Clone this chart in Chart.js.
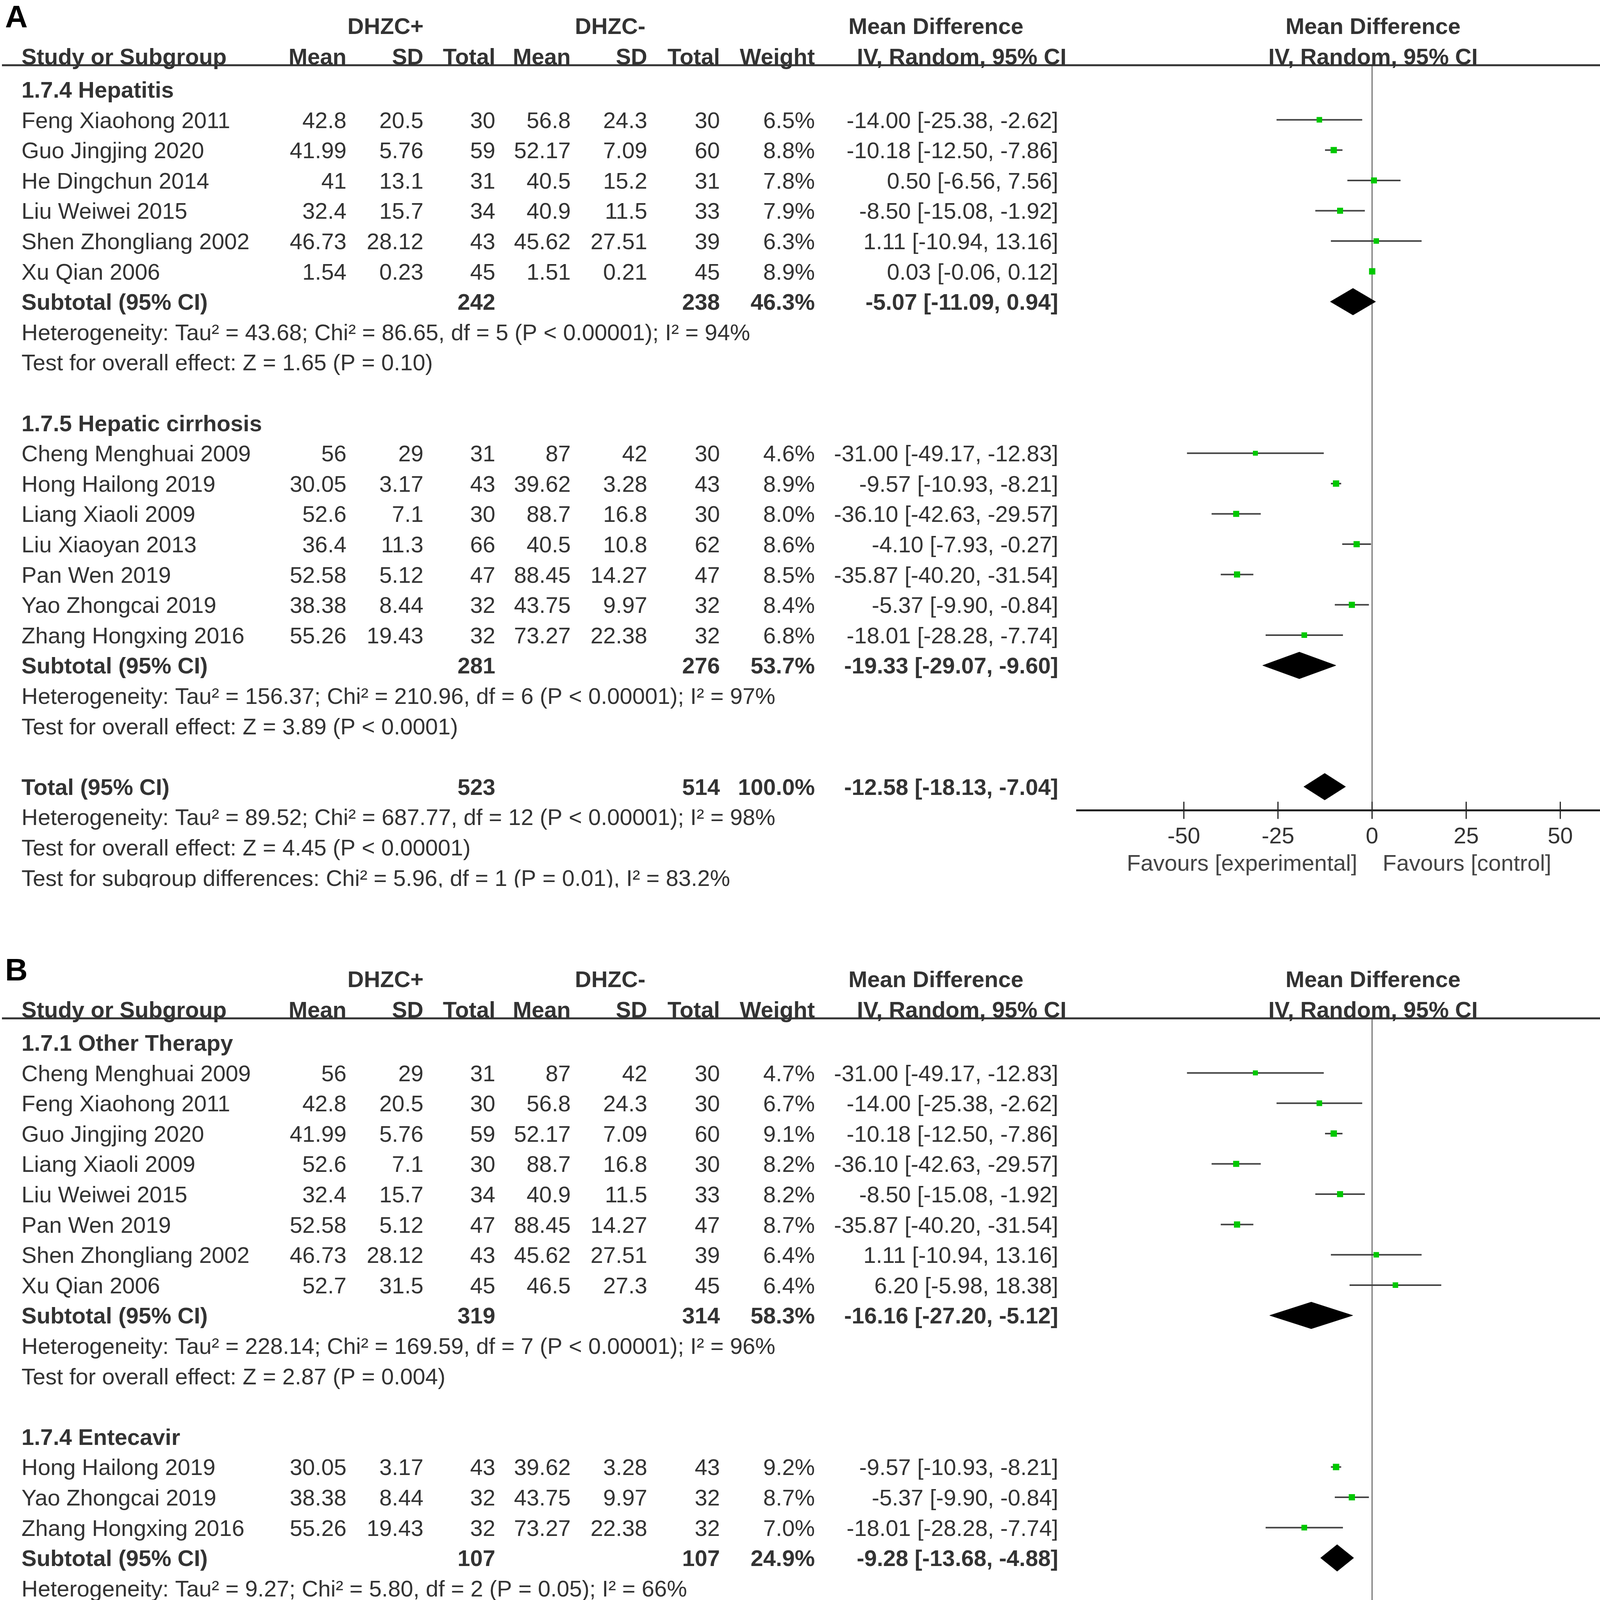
<!DOCTYPE html>
<html>
<head>
<meta charset="utf-8">
<script src="https://cdn.jsdelivr.net/npm/chart.js@4.4.1/dist/chart.umd.min.js"></script>
<style>
html, body { margin: 0; padding: 0; background: #fff; }
body { width: 4328px; height: 5111px; position: relative; overflow: hidden; }
canvas { position: absolute; left: 0; }
#chartA { top: 0; }
#chartB { top: 2400px; }
</style>
</head>
<body>
<canvas id="chartA" width="4328" height="2272"></canvas>
<canvas id="chartB" width="4328" height="2711"></canvas>
<script>
// study rows: name, DHZC+ mean, sd, total, DHZC- mean, sd, total, weight %, MD, lower, upper
var hepatitisA = [
  ['Feng Xiaohong 2011', 42.8, 20.5, 30, 56.8, 24.3, 30, 6.5, -14.00, -25.38, -2.62],
  ['Guo Jingjing 2020', 41.99, 5.76, 59, 52.17, 7.09, 60, 8.8, -10.18, -12.50, -7.86],
  ['He Dingchun 2014', 41, 13.1, 31, 40.5, 15.2, 31, 7.8, 0.50, -6.56, 7.56],
  ['Liu Weiwei 2015', 32.4, 15.7, 34, 40.9, 11.5, 33, 7.9, -8.50, -15.08, -1.92],
  ['Shen Zhongliang 2002', 46.73, 28.12, 43, 45.62, 27.51, 39, 6.3, 1.11, -10.94, 13.16],
  ['Xu Qian 2006', 1.54, 0.23, 45, 1.51, 0.21, 45, 8.9, 0.03, -0.06, 0.12]
];
var cirrhosisA = [
  ['Cheng Menghuai 2009', 56, 29, 31, 87, 42, 30, 4.6, -31.00, -49.17, -12.83],
  ['Hong Hailong 2019', 30.05, 3.17, 43, 39.62, 3.28, 43, 8.9, -9.57, -10.93, -8.21],
  ['Liang Xiaoli 2009', 52.6, 7.1, 30, 88.7, 16.8, 30, 8.0, -36.10, -42.63, -29.57],
  ['Liu Xiaoyan 2013', 36.4, 11.3, 66, 40.5, 10.8, 62, 8.6, -4.10, -7.93, -0.27],
  ['Pan Wen 2019', 52.58, 5.12, 47, 88.45, 14.27, 47, 8.5, -35.87, -40.20, -31.54],
  ['Yao Zhongcai 2019', 38.38, 8.44, 32, 43.75, 9.97, 32, 8.4, -5.37, -9.90, -0.84],
  ['Zhang Hongxing 2016', 55.26, 19.43, 32, 73.27, 22.38, 32, 6.8, -18.01, -28.28, -7.74]
];
var groupsA = ['1.7.4 Hepatitis', '1.7.5 Hepatic cirrhosis'];
// subtotal: DHZC+ total, DHZC- total, weight, MD, lower, upper
var subtotalsA = [
  [242, 238, 46.3, -5.07, -11.09, 0.94],
  [281, 276, 53.7, -19.33, -29.07, -9.60]
];
var hetA = [
  'Heterogeneity: Tau\u00b2 = 43.68; Chi\u00b2 = 86.65, df = 5 (P < 0.00001); I\u00b2 = 94%',
  'Heterogeneity: Tau\u00b2 = 156.37; Chi\u00b2 = 210.96, df = 6 (P < 0.00001); I\u00b2 = 97%'
];
var effectA = [
  'Test for overall effect: Z = 1.65 (P = 0.10)',
  'Test for overall effect: Z = 3.89 (P < 0.0001)'
];
var totalA = [523, 514, 100.0, -12.58, -18.13, -7.04];
var totalNotesA = [
  'Heterogeneity: Tau\u00b2 = 89.52; Chi\u00b2 = 687.77, df = 12 (P < 0.00001); I\u00b2 = 98%',
  'Test for overall effect: Z = 4.45 (P < 0.00001)',
  'Test for subgroup differences: Chi\u00b2 = 5.96, df = 1 (P = 0.01), I\u00b2 = 83.2%'
];

var otherB = [
  ['Cheng Menghuai 2009', 56, 29, 31, 87, 42, 30, 4.7, -31.00, -49.17, -12.83],
  ['Feng Xiaohong 2011', 42.8, 20.5, 30, 56.8, 24.3, 30, 6.7, -14.00, -25.38, -2.62],
  ['Guo Jingjing 2020', 41.99, 5.76, 59, 52.17, 7.09, 60, 9.1, -10.18, -12.50, -7.86],
  ['Liang Xiaoli 2009', 52.6, 7.1, 30, 88.7, 16.8, 30, 8.2, -36.10, -42.63, -29.57],
  ['Liu Weiwei 2015', 32.4, 15.7, 34, 40.9, 11.5, 33, 8.2, -8.50, -15.08, -1.92],
  ['Pan Wen 2019', 52.58, 5.12, 47, 88.45, 14.27, 47, 8.7, -35.87, -40.20, -31.54],
  ['Shen Zhongliang 2002', 46.73, 28.12, 43, 45.62, 27.51, 39, 6.4, 1.11, -10.94, 13.16],
  ['Xu Qian 2006', 52.7, 31.5, 45, 46.5, 27.3, 45, 6.4, 6.20, -5.98, 18.38]
];
var entecavirB = [
  ['Hong Hailong 2019', 30.05, 3.17, 43, 39.62, 3.28, 43, 9.2, -9.57, -10.93, -8.21],
  ['Yao Zhongcai 2019', 38.38, 8.44, 32, 43.75, 9.97, 32, 8.7, -5.37, -9.90, -0.84],
  ['Zhang Hongxing 2016', 55.26, 19.43, 32, 73.27, 22.38, 32, 7.0, -18.01, -28.28, -7.74]
];
var adefovirB = [
  ['He Dingchun 2014', 41, 13.1, 31, 40.5, 15.2, 31, 8.0, 0.50, -6.56, 7.56],
  ['Liu Xiaoyan 2013', 36.4, 11.3, 66, 40.5, 10.8, 62, 8.8, -4.10, -7.93, -0.27]
];
var groupsB = ['1.7.1 Other Therapy', '1.7.4 Entecavir', '1.7.5 Adefovir'];
var subtotalsB = [
  [319, 314, 58.3, -16.16, -27.20, -5.12],
  [107, 107, 24.9, -9.28, -13.68, -4.88],
  [97, 93, 16.8, -2.80, -6.86, 1.27]
];
var hetB = [
  'Heterogeneity: Tau\u00b2 = 228.14; Chi\u00b2 = 169.59, df = 7 (P < 0.00001); I\u00b2 = 96%',
  'Heterogeneity: Tau\u00b2 = 9.27; Chi\u00b2 = 5.80, df = 2 (P = 0.05); I\u00b2 = 66%',
  'Heterogeneity: Tau\u00b2 = 2.18; Chi\u00b2 = 1.26, df = 1 (P = 0.26); I\u00b2 = 21%'
];
var effectB = [
  'Test for overall effect: Z = 2.87 (P = 0.004)',
  'Test for overall effect: Z = 4.13 (P < 0.0001)',
  'Test for overall effect: Z = 1.35 (P = 0.18)'
];
var totalB = [523, 514, 100.0, -12.53, -18.13, -6.94];
var totalNotesB = [
  'Heterogeneity: Tau\u00b2 = 88.47; Chi\u00b2 = 235.38, df = 12 (P < 0.00001); I\u00b2 = 95%',
  'Test for overall effect: Z = 4.39 (P < 0.0001)',
  'Test for subgroup differences: Chi\u00b2 = 7.67, df = 2 (P = 0.02), I\u00b2 = 73.9%'
];

var xTicks = [-50, -25, 0, 25, 50];

var ROW = 77.6;          // px per table row
var FONT = '"Liberation Sans", Arial, sans-serif';
var TEXT = '#333';
var colRight = [887, 1084, 1268, 1461, 1657, 1843, 2086, 2709];

function buildRows(groups, studies, subs, hets, effects, total, notes) {
  var rows = [];
  groups.forEach(function (g, gi) {
    rows.push({ kind: 'group', text: g });
    studies[gi].forEach(function (s) { rows.push({ kind: 'study', s: s }); });
    rows.push({ kind: 'subtotal', s: subs[gi] });
    rows.push({ kind: 'note', text: hets[gi] });
    rows.push({ kind: 'note', text: effects[gi] });
    rows.push({ kind: 'blank' });
  });
  rows.push({ kind: 'total', s: total });
  notes.forEach(function (t) { rows.push({ kind: 'note', text: t }); });
  return rows;
}

function ci(md, lo, hi) {
  return md.toFixed(2) + ' [' + lo.toFixed(2) + ', ' + hi.toFixed(2) + ']';
}

var tablePlugin = {
  id: 'table',
  afterDraw: function (chart) {
    var o = chart.options.plugins.table;
    var ctx = chart.ctx, ys = chart.scales.y, xs = chart.scales.x;
    var area = chart.chartArea;
    function base(i) { return ys.getPixelForValue(i) + 21; }
    function txt(s, x, i, align, bold) {
      ctx.font = (bold ? 'bold ' : '') + '58px ' + FONT;
      ctx.textAlign = align;
      ctx.fillText(s, x, base(i));
    }
    ctx.save();
    ctx.textBaseline = 'alphabetic';

    // panel letter
    ctx.fillStyle = '#000';
    ctx.font = 'bold 80px ' + FONT;
    ctx.textAlign = 'left';
    ctx.fillText(o.letter, 13, ys.getPixelForValue(-2.42) + 29);

    // header
    ctx.fillStyle = TEXT;
    txt('DHZC+', 987, -2.1, 'center', true);
    txt('DHZC-', 1562, -2.1, 'center', true);
    txt('Mean Difference', 2396, -2.1, 'center', true);
    txt('Mean Difference', 3515, -2.1, 'center', true);
    txt('Study or Subgroup', 55, -1.1, 'left', true);
    ['Mean', 'SD', 'Total', 'Mean', 'SD', 'Total', 'Weight'].forEach(function (h, k) {
      txt(h, colRight[k], -1.1, 'right', true);
    });
    txt('IV, Random, 95% CI', 2730, -1.1, 'right', true);
    txt('IV, Random, 95% CI', 3515, -1.1, 'center', true);

    ctx.strokeStyle = '#333';
    ctx.lineWidth = 5;
    ctx.beginPath();
    ctx.moveTo(5, area.top);
    ctx.lineTo(4323, area.top);
    ctx.stroke();

    // body rows
    o.rows.forEach(function (r, i) {
      if (r.kind === 'group') {
        txt(r.text, 55, i, 'left', true);
      } else if (r.kind === 'note') {
        txt(r.text, 55, i, 'left', false);
      } else if (r.kind === 'study') {
        var s = r.s;
        txt(s[0], 55, i, 'left', false);
        for (var k = 1; k <= 6; k++) txt(String(s[k]), colRight[k - 1], i, 'right', false);
        txt(s[7].toFixed(1) + '%', colRight[6], i, 'right', false);
        txt(ci(s[8], s[9], s[10]), colRight[7], i, 'right', false);
      } else if (r.kind === 'subtotal' || r.kind === 'total') {
        var t = r.s;
        txt(r.kind === 'total' ? 'Total (95% CI)' : 'Subtotal (95% CI)', 55, i, 'left', true);
        txt(String(t[0]), colRight[2], i, 'right', true);
        txt(String(t[1]), colRight[5], i, 'right', true);
        txt(t[2].toFixed(1) + '%', colRight[6], i, 'right', true);
        txt(ci(t[3], t[4], t[5]), colRight[7], i, 'right', true);
      }
    });

    // tick marks crossing the axis line
    ctx.strokeStyle = '#222';
    ctx.lineWidth = 3;
    xs.ticks.forEach(function (t) {
      var px = xs.getPixelForValue(t.value);
      ctx.beginPath();
      ctx.moveTo(px, area.bottom - 22);
      ctx.lineTo(px, area.bottom + 22);
      ctx.stroke();
    });

    // favours labels
    var x0 = xs.getPixelForValue(0);
    ctx.fillStyle = '#444';
    ctx.font = '58px ' + FONT;
    ctx.textAlign = 'right';
    ctx.fillText('Favours [experimental]', x0 - 38, area.bottom + 155);
    ctx.textAlign = 'left';
    ctx.fillText('Favours [control]', x0 + 27, area.bottom + 155);
    ctx.restore();
  }
};

function makePanel(id, letter, rows, headerY) {
  var canvas = document.getElementById(id);
  var H = canvas.height;
  var totalIdx = 0;
  rows.forEach(function (r, i) { if (r.kind === 'total') totalIdx = i; });
  var yMin = -0.8, yMax = totalIdx + 0.78;
  var axisH = H - headerY - (yMax - yMin) * ROW;

  var squares = [], sizes = [], lines = [], diamonds = [];
  rows.forEach(function (r, i) {
    if (r.kind === 'study') {
      var s = r.s;
      squares.push({ x: s[8], y: i });
      sizes.push((9 + 0.8 * s[7]) / Math.SQRT2);
      lines.push({ x: s[9], y: i }, { x: s[10], y: i }, { x: null, y: null });
    } else if (r.kind === 'subtotal' || r.kind === 'total') {
      var t = r.s, h = 0.44;
      diamonds.push({
        type: 'scatter',
        showLine: true,
        data: [{ x: t[4], y: i }, { x: t[3], y: i - h }, { x: t[5], y: i }, { x: t[3], y: i + h }, { x: t[4], y: i }],
        borderColor: '#000',
        borderWidth: 1,
        backgroundColor: '#000',
        fill: 'shape',
        pointRadius: 0,
        order: 2
      });
    }
  });

  var datasets = [
    {
      type: 'scatter',
      data: squares,
      pointStyle: 'rect',
      pointRadius: sizes,
      backgroundColor: '#00c800',
      borderWidth: 0,
      order: 0
    },
    {
      type: 'scatter',
      data: lines,
      showLine: true,
      spanGaps: false,
      borderColor: '#444',
      borderWidth: 4,
      pointRadius: 0,
      order: 1
    }
  ].concat(diamonds);

  return new Chart(canvas.getContext('2d'), {
    type: 'scatter',
    data: { datasets: datasets },
    plugins: [tablePlugin],
    options: {
      responsive: false,
      maintainAspectRatio: false,
      devicePixelRatio: 1,
      animation: false,
      events: [],
      layout: { padding: { left: 2757, right: 60, top: headerY, bottom: 0 }, autoPadding: false },
      plugins: {
        legend: { display: false },
        tooltip: { enabled: false },
        table: { letter: letter, rows: rows }
      },
      scales: {
        x: {
          type: 'linear',
          min: -78.4,
          max: 78.4,
          afterBuildTicks: function (s) { s.ticks = xTicks.map(function (v) { return { value: v }; }); },
          afterFit: function (s) { s.height = axisH; },
          grid: {
            drawTicks: false,
            lineWidth: 3,
            color: function (c) { return c.tick && c.tick.value === 0 ? '#777' : 'rgba(0,0,0,0)'; }
          },
          border: { display: true, color: '#222', width: 5 },
          ticks: {
            autoSkip: false,
            maxRotation: 0,
            padding: 34,
            color: '#333',
            font: { family: FONT, size: 58 }
          }
        },
        y: {
          type: 'linear',
          display: false,
          reverse: true,
          min: yMin,
          max: yMax
        }
      }
    }
  });
}

var rowsA = buildRows(groupsA, [hepatitisA, cirrhosisA], subtotalsA, hetA, effectA, totalA, totalNotesA);
var rowsB = buildRows(groupsB, [otherB, entecavirB, adefovirB], subtotalsB, hetB, effectB, totalB, totalNotesB);

makePanel('chartA', 'A', rowsA, 167);
makePanel('chartB', 'B', rowsB, 207);
</script>
</body>
</html>
